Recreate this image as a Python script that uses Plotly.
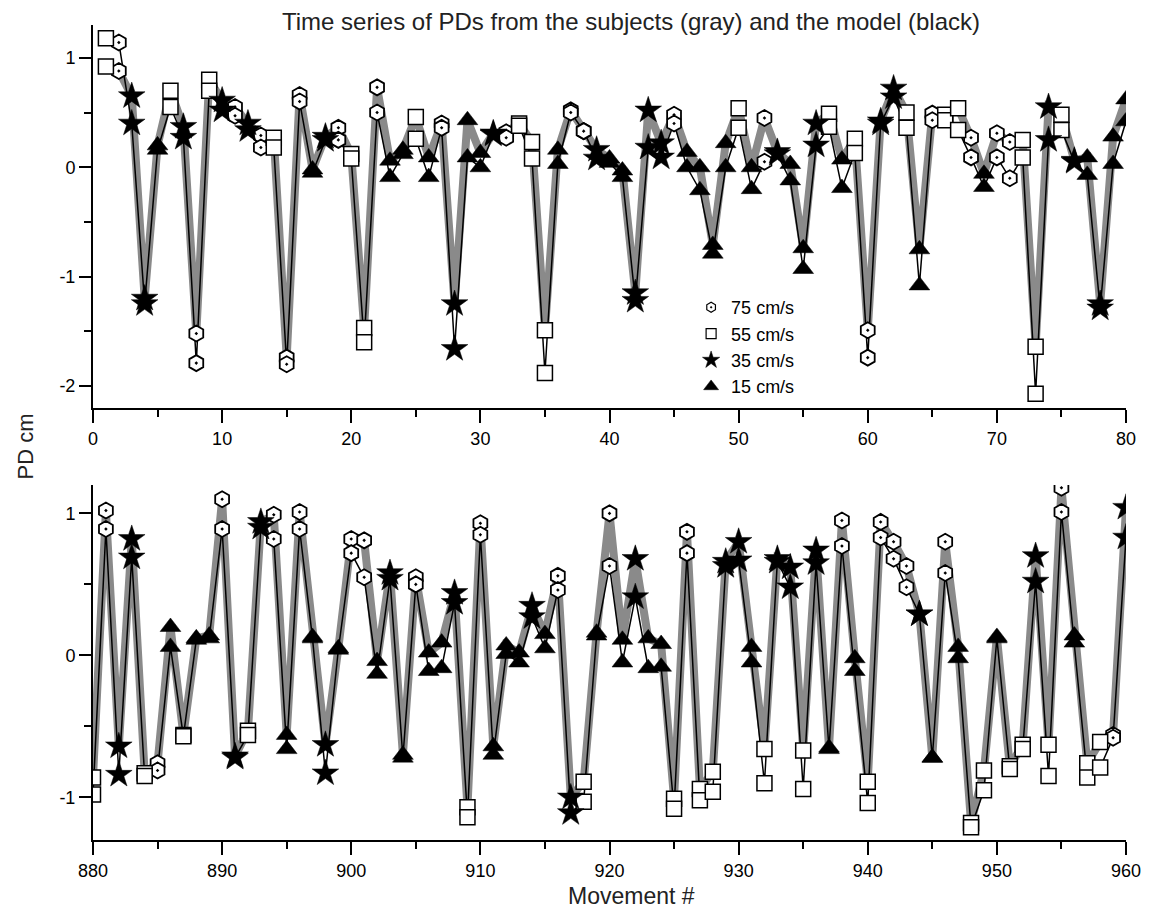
import plotly.graph_objects as go

# ---------------- data ----------------
top_n = list(range(1, 81))
top_speed = [55, 75, 35, 35, 15, 55, 35, 75, 55, 35,
             75, 35, 75, 55, 75, 75, 15, 35, 75, 55,
             55, 75, 15, 15, 55, 15, 75, 35, 15, 15,
             35, 75, 55, 55, 55, 15, 75, 75, 35, 15,
             15, 35, 35, 35, 75, 15, 15, 15, 15, 55,
             15, 75, 35, 15, 15, 35, 55, 15, 55, 75,
             35, 35, 55, 15, 75, 55, 55, 75, 15, 75,
             75, 55, 55, 35, 55, 35, 15, 35, 15, 15]
top_subject = [0.92, 0.88, 0.65, -1.20, 0.20, 0.70, 0.37, -1.52, 0.80, 0.61,
               0.55, 0.40, 0.29, 0.27, -1.74, 0.66, -0.02, 0.28, 0.36, 0.12,
               -1.47, 0.73, 0.06, 0.16, 0.46, 0.09, 0.40, -1.25, 0.43, 0.13,
               0.31, 0.32, 0.40, 0.23, -1.49, 0.16, 0.52, 0.33, 0.16, 0.08,
               -0.03, -1.15, 0.52, 0.22, 0.48, 0.14, 0.00, -0.71, 0.22, 0.54,
               0.00, 0.45, 0.14, 0.03, -0.74, 0.40, 0.49, 0.07, 0.26, -1.49,
               0.42, 0.72, 0.50, -0.75, 0.49, 0.48, 0.54, 0.27, -0.06, 0.31,
               0.23, 0.25, -1.64, 0.55, 0.48, 0.06, 0.09, -1.25, 0.28, 0.62]
top_model = [1.18, 1.14, 0.40, -1.25, 0.16, 0.55, 0.27, -1.79, 0.70, 0.52,
             0.47, 0.34, 0.18, 0.18, -1.80, 0.60, -0.05, 0.25, 0.25, 0.08,
             -1.60, 0.50, -0.09, 0.12, 0.26, -0.09, 0.36, -1.66, 0.09, 0.00,
             0.30, 0.27, 0.38, 0.08, -1.88, 0.03, 0.50, 0.33, 0.08, 0.04,
             -0.09, -1.22, 0.18, 0.09, 0.40, 0.00, -0.21, -0.79, 0.00, 0.36,
             -0.20, 0.05, 0.12, -0.12, -0.93, 0.20, 0.37, -0.19, 0.13, -1.74,
             0.40, 0.64, 0.36, -1.08, 0.43, 0.43, 0.34, 0.09, -0.18, 0.09,
             -0.10, 0.09, -2.07, 0.25, 0.34, 0.05, -0.07, -1.29, 0.03, 0.42]

bot_n = list(range(880, 961))
bot_speed = [55, 75, 35, 35, 55, 75, 15, 55, 15, 15,
             75, 35, 55, 35, 75, 15, 75, 15, 35, 15,
             75, 75, 15, 35, 15, 75, 15, 15, 35, 55,
             75, 15, 15, 15, 35, 15, 75, 35, 55, 15,
             75, 15, 35, 15, 15, 55, 75, 55, 55, 35,
             35, 15, 55, 35, 35, 55, 35, 15, 75, 15,
             55, 75, 75, 75, 35, 15, 75, 15, 55, 55,
             15, 55, 55, 35, 55, 75, 15, 55, 55, 75,
             35]
bot_subject = [-0.86, 1.02, -0.64, 0.82, -0.83, -0.76, 0.20, -0.56, 0.12, 0.14,
               1.10, -0.71, -0.53, 0.94, 0.99, -0.56, 1.01, 0.13, -0.63, 0.05,
               0.82, 0.81, -0.04, 0.58, -0.70, 0.55, 0.02, 0.09, 0.44, -1.07,
               0.93, -0.64, 0.07, 0.02, 0.35, 0.15, 0.56, -1.00, -0.89, 0.16,
               1.00, 0.11, 0.68, 0.12, 0.08, -1.01, 0.87, -0.94, -0.82, 0.66,
               0.80, 0.06, -0.66, 0.68, 0.62, -0.67, 0.74, -0.65, 0.95, -0.02,
               -0.89, 0.94, 0.80, 0.63, 0.29, -0.72, 0.80, 0.06, -1.18, -0.81,
               0.13, -0.78, -0.63, 0.70, -0.63, 1.18, 0.14, -0.76, -0.61, -0.56,
               1.04]
bot_model = [-0.98, 0.89, -0.84, 0.69, -0.85, -0.81, 0.06, -0.57, 0.11, 0.12,
             0.89, -0.72, -0.56, 0.90, 0.82, -0.66, 0.89, 0.12, -0.83, 0.04,
             0.72, 0.55, -0.13, 0.54, -0.72, 0.50, -0.11, -0.09, 0.37, -1.14,
             0.85, -0.70, 0.01, -0.05, 0.27, 0.05, 0.46, -1.11, -1.03, 0.14,
             0.63, -0.05, 0.41, -0.09, -0.08, -1.08, 0.72, -1.02, -0.96, 0.63,
             0.67, -0.05, -0.90, 0.66, 0.48, -0.94, 0.65, -0.66, 0.77, -0.11,
             -1.04, 0.83, 0.68, 0.48, 0.29, -0.72, 0.58, -0.02, -1.21, -0.95,
             0.12, -0.80, -0.66, 0.52, -0.85, 1.01, 0.09, -0.86, -0.79, -0.58,
             0.83]

speeds = [75, 55, 35, 15]
speed_labels = ["75 cm/s", "55 cm/s", "35 cm/s", "15 cm/s"]

# ---------------- styles ----------------
FONT = "Arial, Liberation Sans, sans-serif"
marker_style = {
    75: dict(symbol="hexagon-dot", size=16, color="white", line=dict(color="black", width=1.8)),
    55: dict(symbol="square", size=15, color="white", line=dict(color="black", width=1.5)),
    35: dict(symbol="star", size=20, color="black", line=dict(color="black", width=0.5)),
    15: dict(symbol="triangle-up", size=18, color="black", line=dict(color="black", width=0.5)),
}
legend_style = {
    75: dict(symbol="hexagon-dot", size=10, color="white", line=dict(color="black", width=1.2)),
    55: dict(symbol="square", size=10, color="white", line=dict(color="black", width=1.2)),
    35: dict(symbol="star", size=13, color="black", line=dict(color="black", width=0.5)),
    15: dict(symbol="triangle-up", size=13, color="black", line=dict(color="black", width=0.5)),
}

fig = go.Figure()

panels = [
    ("x", "y", top_n, top_speed, top_subject, top_model),
    ("x2", "y2", bot_n, bot_speed, bot_subject, bot_model),
]

for xa, ya, n, sp, subj, mod in panels:
    fig.add_trace(go.Scatter(x=n, y=subj, mode="lines", xaxis=xa, yaxis=ya,
                             line=dict(color="#8a8a8a", width=8), showlegend=False,
                             hoverinfo="skip"))
for xa, ya, n, sp, subj, mod in panels:
    fig.add_trace(go.Scatter(x=n, y=mod, mode="lines", xaxis=xa, yaxis=ya,
                             line=dict(color="black", width=1.5), showlegend=False,
                             hoverinfo="skip"))
for xa, ya, n, sp, subj, mod in panels:
    for s in speeds:
        xs, ys = [], []
        for i in range(len(n)):
            if sp[i] == s:
                xs += [n[i], n[i]]
                ys += [subj[i], mod[i]]
        fig.add_trace(go.Scatter(x=xs, y=ys, mode="markers", xaxis=xa, yaxis=ya,
                                 marker=marker_style[s], showlegend=False))

for s, lab in zip(speeds, speed_labels):
    fig.add_trace(go.Scatter(x=[None], y=[None], mode="markers", name=lab,
                             marker=legend_style[s], showlegend=True))

axis_common = dict(showline=True, linecolor="black", linewidth=2, ticks="outside",
                   tickwidth=2, tickcolor="black", showgrid=False, zeroline=False,
                   tickfont=dict(family=FONT, size=18, color="black"))

fig.update_layout(
    width=1153, height=913,
    margin=dict(l=93, r=20, t=25, b=73),
    plot_bgcolor="white", paper_bgcolor="white",
    showlegend=True,
    legend=dict(x=0.579, y=0.676, xanchor="left", yanchor="top",
                bgcolor="rgba(0,0,0,0)", font=dict(family=FONT, size=18, color="black"),
                tracegroupgap=0, itemwidth=30),
    xaxis=dict(domain=[0, 1], range=[0, 80], anchor="y", tickvals=[0, 10, 20, 30, 40, 50, 60, 70, 80],
               ticklen=13, minor=dict(dtick=5, tick0=0, ticklen=7, ticks="outside",
                                      tickwidth=2, tickcolor="black", showgrid=False),
               **axis_common),
    yaxis=dict(domain=[0.5301, 1], range=[-2.2, 1.3], anchor="x",
               tickvals=[-2, -1, 0, 1], ticktext=["-2", "-1", "0", "1"], ticklen=12,
               minor=dict(dtick=0.5, tick0=0, ticklen=7, ticks="outside",
                          tickwidth=2, tickcolor="black", showgrid=False),
               **axis_common),
    xaxis2=dict(domain=[0, 1], range=[880, 960], anchor="y2",
                tickvals=[880, 890, 900, 910, 920, 930, 940, 950, 960],
                ticklen=13, minor=dict(dtick=5, tick0=880, ticklen=7, ticks="outside",
                                       tickwidth=2, tickcolor="black", showgrid=False),
                **axis_common),
    yaxis2=dict(domain=[0, 0.4356], range=[-1.3, 1.2], anchor="x2",
                tickvals=[-1, 0, 1], ticktext=["-1", "0", "1"], ticklen=12,
                minor=dict(dtick=0.5, tick0=0, ticklen=7, ticks="outside",
                           tickwidth=2, tickcolor="black", showgrid=False),
                **axis_common),
    annotations=[
        dict(text="Time series of PDs from the subjects (gray) and the model (black)",
             xref="paper", yref="paper", x=0.521, y=1.004, xanchor="center", yanchor="middle",
             showarrow=False, font=dict(family=FONT, size=24, color="#222")),
        dict(text="Movement #", xref="paper", yref="paper", x=0.521, y=-0.069,
             xanchor="center", yanchor="middle", showarrow=False,
             font=dict(family=FONT, size=23, color="#222")),
        dict(text="PD cm", xref="paper", yref="paper", x=-0.0654, y=0.4834,
             xanchor="center", yanchor="middle", showarrow=False, textangle=-90,
             font=dict(family=FONT, size=22, color="#222")),
    ],
)

fig.write_html("out.html")
